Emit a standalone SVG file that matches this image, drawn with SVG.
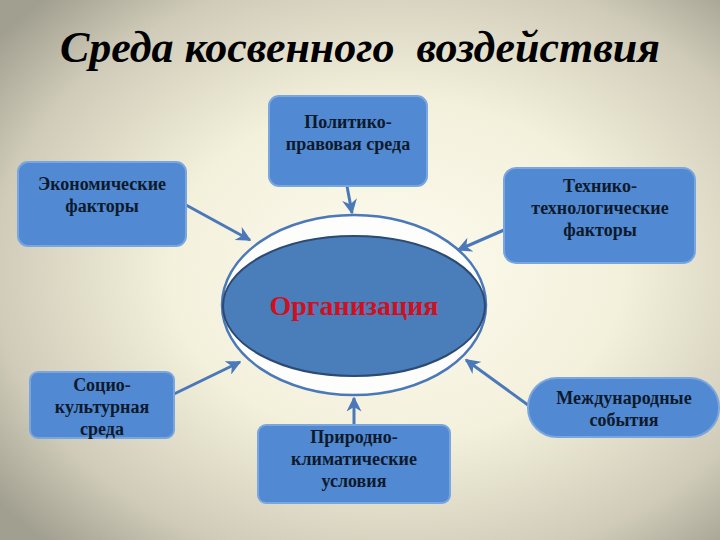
<svg xmlns="http://www.w3.org/2000/svg" width="720" height="540" viewBox="0 0 720 540">
<defs>
<radialGradient id="bg" cx="0.55" cy="0.5" r="0.7">
<stop offset="0" stop-color="#fdfbee"/>
<stop offset="0.45" stop-color="#f3f0dc"/>
<stop offset="0.8" stop-color="#cfcbb8"/>
<stop offset="1" stop-color="#a19f90"/>
</radialGradient>
<marker id="ah" viewBox="0 0 10 10" refX="9" refY="5" markerWidth="5" markerHeight="5" orient="auto" markerUnits="strokeWidth">
<path d="M0,0 L10,5 L0,10 L3,5 z" fill="#4a78b8"/>
</marker>
<style>
.box{fill:#5189d2;stroke:#7aa6e0;stroke-width:2}
.lbl{font-family:"Liberation Serif","DejaVu Serif",serif;font-weight:bold;font-size:18px;fill:#0d1a2c;text-anchor:middle}
.con{stroke:#4a78b8;stroke-width:3;fill:none;marker-end:url(#ah)}
</style>
</defs>
<rect width="720" height="540" fill="url(#bg)"/>
<text x="360" y="62" text-anchor="middle" xml:space="preserve" font-family="Liberation Serif, serif" font-weight="bold" font-style="italic" font-size="44" fill="#000">Среда косвенного  воздействия</text>
<g id="connectors">
<line class="con" x1="186" y1="205" x2="250" y2="240"/>
<line class="con" x1="347" y1="186" x2="352" y2="213"/>
<line class="con" x1="504" y1="230" x2="458" y2="250"/>
<line class="con" x1="174" y1="394" x2="240" y2="362"/>
<line class="con" x1="354" y1="425" x2="354" y2="398"/>
<line class="con" x1="528" y1="405" x2="466" y2="360"/>
</g>
<g id="org">
<ellipse cx="354" cy="305" rx="132" ry="90" fill="#fdfdfb" stroke="#4a78b8" stroke-width="2.5"/>
<ellipse cx="354" cy="306" rx="131" ry="70" fill="#4a7ebb" stroke="#2c4a72" stroke-width="2"/>
<text x="354" y="315" text-anchor="middle" font-family="Liberation Serif, serif" font-weight="bold" font-size="28" fill="#d0101e">Организация</text>
</g>
<g id="politiko">
<rect class="box" x="269" y="96" width="158" height="90" rx="10"/>
<text class="lbl" x="348" y="128">Политико-</text>
<text class="lbl" x="348" y="150">правовая среда</text>
</g>
<g id="ekonom">
<rect class="box" x="18" y="162" width="168" height="84" rx="10"/>
<text class="lbl" x="102" y="190">Экономические</text>
<text class="lbl" x="102" y="212">факторы</text>
</g>
<g id="tehniko">
<rect class="box" x="504" y="168" width="191" height="95" rx="12"/>
<text class="lbl" x="600" y="192">Технико-</text>
<text class="lbl" x="600" y="214">технологические</text>
<text class="lbl" x="600" y="236">факторы</text>
</g>
<g id="socio">
<rect class="box" x="30" y="372" width="144" height="66" rx="8"/>
<text class="lbl" x="102" y="391">Социо-</text>
<text class="lbl" x="102" y="413">культурная</text>
<text class="lbl" x="102" y="435">среда</text>
</g>
<g id="prirodno">
<rect class="box" x="258" y="425" width="192" height="78" rx="8"/>
<text class="lbl" x="354" y="443">Природно-</text>
<text class="lbl" x="354" y="465">климатические</text>
<text class="lbl" x="354" y="487">условия</text>
</g>
<g id="mezhdunar">
<rect class="box" x="528" y="378" width="191" height="59" rx="29"/>
<text class="lbl" x="624" y="404">Международные</text>
<text class="lbl" x="624" y="426">события</text>
</g>
</svg>
